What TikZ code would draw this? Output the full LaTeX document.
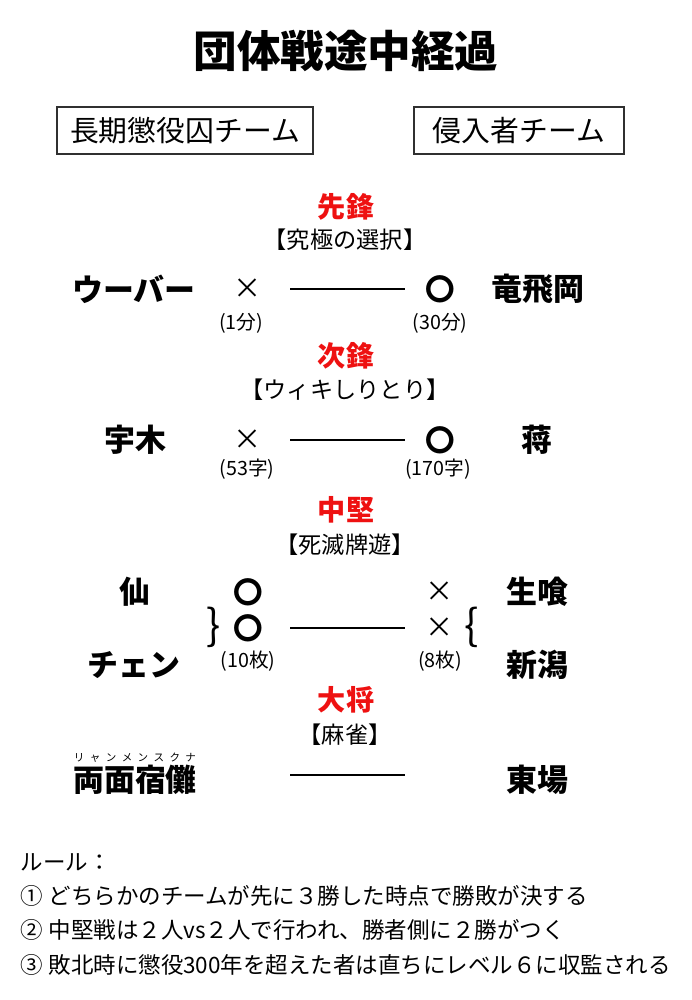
\documentclass[tikz,border=0pt]{standalone}
\usepackage{fontspec}
\setmainfont{Noto Sans CJK JP}
\usetikzlibrary{positioning}
\usepackage{xcolor}
\definecolor{posred}{HTML}{EE1111}
\definecolor{frame}{HTML}{303030}

\begin{document}
\begin{tikzpicture}[x=0.025cm, y=-0.025cm,
  team/.style={rectangle, draw=frame, line width=1.3pt, minimum height=1.175cm,
    inner sep=0pt, font=\fontsize{20.5}{24}\selectfont},
  posname/.style={text=posred, font=\bfseries\fontsize{20}{24}\selectfont},
  game/.style={font=\fontsize{16.5}{20}\selectfont},
  player/.style={font=\bfseries\fontsize{22}{26}\selectfont},
  lose/.style={font=\fontsize{20}{24}\selectfont},
  win/.style={font=\bfseries\fontsize{21}{24}\selectfont},
  score/.style={font=\fontsize{14}{16}\selectfont},
  brace/.style={font=\fontsize{30}{30}\selectfont},
  link/.style={line width=2pt},
  rule/.style={anchor=west, font=\fontsize{16}{19}\selectfont},
]
  \useasboundingbox (0,0) rectangle (691,1000);

  % title and teams
  \node[font=\bfseries\fontsize{31}{36}\selectfont] (title) at (346,51) {団体戦途中経過};
  \node[team, minimum width=6.4cm] (prison) at (185,130.5) {長期懲役囚チーム};
  \node[team, minimum width=5.25cm] (invader) at (519,130.5) {侵入者チーム};

  % 先鋒
  \node[posname] (sen) at (346,207) {先鋒};
  \node[game] (g1) at (345,240) {【究極の選択】};
  \node[player] (a1) at (134,289) {ウーバー};
  \node[lose] (r1a) at (248,289) {×};
  \node[win] (r1b) at (440,289) {〇};
  \node[player] (b1) at (538,289) {竜飛岡};
  \node[score] (s1a) at (241,323) {(1分)};
  \node[score] (s1b) at (440,323) {(30分)};
  \coordinate (l1a) at (290,289);
  \coordinate (l1b) at (405,289);
  \draw[link] (l1a) -- (l1b);

  % 次鋒
  \node[posname] (ji) at (346,356) {次鋒};
  \node[game] (g2) at (345,390) {【ウィキしりとり】};
  \node[player] (a2) at (135,440) {宇木};
  \node[lose] (r2a) at (248,440) {×};
  \node[win] (r2b) at (440,440) {〇};
  \node[player] (b2) at (537,440) {蒋};
  \node[score] (s2a) at (247,469) {(53字)};
  \node[score] (s2b) at (438,469) {(170字)};
  \coordinate (l2a) at (290,440);
  \coordinate (l2b) at (405,440);
  \draw[link] (l2a) -- (l2b);

  % 中堅
  \node[posname] (chu) at (346,510) {中堅};
  \node[game] (g3) at (345,545) {【死滅牌遊】};
  \node[player] (a3) at (135,592) {仙};
  \node[player] (a4) at (134,665) {チェン};
  \node[win] (r3a) at (248,592) {〇};
  \node[win] (r4a) at (248,628) {〇};
  \node[brace] (ka) at (214,627) {\}};
  \node[lose] (r3b) at (440,592) {×};
  \node[lose] (r4b) at (440,628) {×};
  \node[brace] (kb) at (472,627) {\{};
  \node[player] (b3) at (537,592) {生喰};
  \node[player] (b4) at (537,665) {新潟};
  \node[score] (s3a) at (248,661) {(10枚)};
  \node[score] (s3b) at (440,661) {(8枚)};
  \coordinate (l3a) at (290,628);
  \coordinate (l3b) at (405,628);
  \draw[link] (l3a) -- (l3b);

  % 大将
  \node[posname] (tai) at (346,700) {大将};
  \node[game] (g4) at (345,735) {【麻雀】};
  \node[player] (a5) at (135,780) {両面宿儺};
  \node[font=\fontsize{7.5}{8}\selectfont, above=-5pt of a5] (ruby)
    {\makebox[3.05cm][s]{リ\hfill ャ\hfill ン\hfill メ\hfill ン\hfill ス\hfill ク\hfill ナ}};
  \node[player] (b5) at (537,780) {東場};
  \coordinate (l4a) at (290,775);
  \coordinate (l4b) at (405,775);
  \draw[link] (l4a) -- (l4b);

  % rules
  \node[rule] (rt) at (16,862) {ルール：};
  \node[rule] (ru1) at (16,896) {① どちらかのチームが先に３勝した時点で勝敗が決する};
  \node[rule] (ru2) at (16,930) {② 中堅戦は２人vs２人で行われ、勝者側に２勝がつく};
  \node[rule] (ru3) at (16,965) {③ 敗北時に懲役300年を超えた者は直ちにレベル６に収監される};
\end{tikzpicture}
\end{document}
